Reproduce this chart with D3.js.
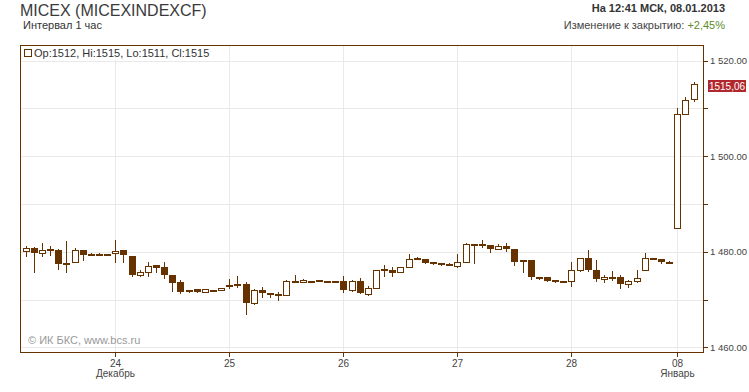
<!DOCTYPE html>
<html><head><meta charset="utf-8">
<script src="https://cdn.jsdelivr.net/npm/d3@7"></script>
<style>
html,body{margin:0;padding:0;background:#fff;}
svg{display:block;font-family:"Liberation Sans",Arial,sans-serif;}
</style></head>
<body>
<svg id="chart" width="749" height="392"></svg>
<script>
// ---- data ----
const openVals = [
 1480.2,1480.8,1479.8,1480.6,1480.4,1477.7,1477.8,1480.3,1479.6,1479.55,1479.5,
 1479.65,1480.3,1479.2,1475.25,1475.7,1477.3,1476.8,1475.25,1473.6,1471.95,1472.2,1471.7,1472.1,1472.0,
 1473.0,1473.2,1473.2,1469.3,1472.0,1471.3,1471.1,1471.05,1474.0,1473.6,1474.0,1474.05,1473.85,1473.85,
 1474.0,1472.0,1473.8,1471.26,1472.5,1476.4,1476.15,1475.7,1476.9,1478.7,1478.6,1477.8,1477.6,1477.5,
 1477.1,1477.97,1481.5,1481.7,1481.4,1480.5,1481.3,1480.56,1478.25,1478.25,1474.7,1474.7,1474.05,1474.0,
 1473.9,1476.2,1478.8,1476.3,1474.3,1474.8,1474.8,1473.35,1473.8,1476.2,1478.8,1478.6,1477.9,
 1484.9,1508.8,1512.0
];
const highVals = [
 1481.3,1481.0,1481.8,1481.2,1480.5,1482.2,1480.9,1480.3,1479.8,1479.8,1479.5,
 1482.45,1480.3,1479.2,1476.1,1477.8,1477.3,1477.8,1475.25,1474.1,1471.95,1472.2,1472.2,1472.1,1472.5,
 1474.3,1474.9,1473.6,1472.2,1472.6,1471.3,1471.6,1474.1,1475.1,1474.3,1474.0,1474.05,1473.85,1473.85,
 1475.0,1474.2,1474.5,1472.8,1476.3,1477.2,1476.85,1476.9,1479.5,1478.9,1478.6,1477.8,1477.6,1477.7,
 1479.5,1481.9,1481.65,1482.4,1481.4,1481.6,1481.8,1480.56,1478.25,1478.25,1474.7,1474.7,1474.05,1474.0,
 1477.8,1478.8,1480.35,1478.25,1475.2,1475.9,1475.2,1474.2,1476.3,1479.7,1478.8,1478.6,1478.1,
 1510.0,1512.4,1515.5
];
const lowVals = [
 1479.2,1475.8,1479.2,1479.4,1476.4,1475.8,1477.8,1478.3,1479.4,1479.4,1479.45,
 1477.9,1477.9,1475.0,1475.0,1475.0,1475.7,1474.6,1471.8,1471.4,1471.7,1471.7,1471.7,1472.0,1472.0,
 1472.4,1472.7,1467.0,1469.0,1470.6,1470.6,1469.9,1471.05,1473.6,1473.6,1473.95,1473.8,1473.8,1473.8,
 1471.5,1471.75,1471.4,1471.05,1472.5,1475.0,1475.0,1475.7,1476.9,1478.6,1477.76,1477.55,1477.3,1477.45,
 1476.85,1477.97,1477.7,1481.1,1479.9,1480.5,1480.07,1477.3,1475.8,1474.3,1474.3,1473.8,1473.7,1473.95,
 1472.9,1476.0,1476.0,1473.9,1473.7,1474.1,1472.45,1472.65,1473.6,1476.2,1478.75,1477.6,1477.7,
 1484.9,1508.8,1511.55
];
const closeVals = [
 1480.7,1479.8,1480.3,1480.1,1477.5,1477.3,1480.3,1479.4,1479.4,1479.45,1479.45,
 1480.15,1479.4,1475.2,1475.7,1477.1,1476.7,1475.25,1473.5,1471.7,1471.7,1471.7,1472.2,1472.05,1472.5,
 1472.6,1472.9,1469.3,1472.0,1471.3,1471.0,1471.05,1473.85,1473.6,1474.05,1473.95,1473.8,1473.8,1473.8,
 1472.0,1473.85,1471.4,1472.5,1476.3,1476.0,1475.6,1476.9,1478.6,1478.6,1477.76,1477.55,1477.3,1477.45,
 1477.97,1481.6,1481.6,1481.3,1480.5,1481.3,1480.5,1477.9,1477.9,1474.75,1474.6,1473.8,1473.9,1473.95,
 1476.3,1478.8,1476.15,1474.3,1474.8,1474.75,1473.35,1473.85,1474.6,1478.8,1478.75,1477.9,1477.7,
 1508.9,1511.8,1515.06
];
const dayIndex = [11, 25, 39, 53, 67, 80];
const dayLabels = ["24", "25", "26", "27", "28", "08"];
const monthLabels = ["Декабрь", "", "", "", "", "Январь"];
const yGridValues = [1460, 1470, 1480, 1490, 1500, 1510, 1520];
const yLabelValues = [1460, 1480, 1500, 1520];
const yLabelTexts = ["1 460.00", "1 480.00", "1 500.00", "1 520.00"];
const lastPriceText = "1515,06";

// ---- layout ----
const brown = "#663300";
const svg = d3.select("#chart");
const L = 20, R = 703, T = 45, B = 352;
const x = d3.scaleLinear().domain([-0.7, 83.15]).range([L, R]);
const y = d3.scaleLinear().domain([1459.05, 1523.25]).range([B, T]);

const candles = openVals.map((o, i) => ({i, o, h: highVals[i], l: lowVals[i], c: closeVals[i]}));

// header texts
svg.append("text").attr("x", 20).attr("y", 16).attr("font-size", 16).attr("fill", "#3a3a3a").text("MICEX (MICEXINDEXCF)");
svg.append("text").attr("x", 23).attr("y", 29).attr("font-size", 11).attr("fill", "#333").text("Интервал 1 час");
svg.append("text").attr("x", 725).attr("y", 12).attr("text-anchor", "end").attr("font-size", 11).attr("font-weight", "bold").attr("fill", "#333").text("На 12:41 МСК, 08.01.2013");
const chg = svg.append("text").attr("x", 725).attr("y", 29).attr("text-anchor", "end").attr("font-size", 11).attr("fill", "#444");
chg.append("tspan").text("Изменение к закрытию: ");
chg.append("tspan").attr("fill", "#5b8c2a").text("+2,45%");

// grid
const g = svg.append("g").attr("shape-rendering", "crispEdges");
g.selectAll("line.hg").data(yGridValues).enter().append("line")
  .attr("x1", L).attr("x2", R).attr("y1", d => Math.round(y(d)) + 0.5).attr("y2", d => Math.round(y(d)) + 0.5)
  .attr("stroke", "#e9e9e9");
g.selectAll("line.vg").data(dayIndex).enter().append("line")
  .attr("y1", T).attr("y2", B).attr("x1", d => Math.round(x(d)) + 0.5).attr("x2", d => Math.round(x(d)) + 0.5)
  .attr("stroke", "#e9e9e9");

// copyright
svg.append("text").attr("x", 28).attr("y", 344).attr("font-size", 11).attr("fill", "#999").text("© ИК БКС, www.bcs.ru");

// legend
const lg = svg.append("g");
lg.append("rect").attr("x", 21).attr("y", 46).attr("width", 190).attr("height", 14).attr("fill", "#fff");
lg.append("rect").attr("x", 24.5).attr("y", 49.5).attr("width", 7).attr("height", 7).attr("fill", "#fff").attr("stroke", brown).attr("shape-rendering", "crispEdges");
lg.append("text").attr("x", 34).attr("y", 57).attr("font-size", 11).attr("fill", "#333")
  .text("Op:1512, Hi:1515, Lo:1511, Cl:1515");

// candles
const cg = svg.append("g").attr("shape-rendering", "crispEdges");
candles.forEach(d => {
  const cx = Math.round(x(d.i));
  const yo = y(d.o), yc = y(d.c), yh = y(d.h), yl = y(d.l);
  const top = Math.round(Math.min(yo, yc)), bot = Math.round(Math.max(yo, yc));
  cg.append("line").attr("x1", cx + 0.5).attr("x2", cx + 0.5)
    .attr("y1", Math.round(yh)).attr("y2", Math.round(yl) + 1).attr("stroke", brown);
  if (d.c >= d.o) {
    const hgt = Math.max(bot - top, 1);
    cg.append("rect").attr("x", cx - 2.5).attr("y", top + 0.5).attr("width", 6).attr("height", hgt)
      .attr("fill", "#fff").attr("stroke", brown);
  } else {
    const hgt = Math.max(bot - top, 2);
    cg.append("rect").attr("x", cx - 3).attr("y", top).attr("width", 7).attr("height", hgt).attr("fill", brown);
  }
});

// frame
svg.append("rect").attr("x", L + 0.5).attr("y", T + 0.5).attr("width", R - L).attr("height", B - T)
  .attr("fill", "none").attr("stroke", brown).attr("shape-rendering", "crispEdges");

// right axis ticks + labels
const ax = svg.append("g").attr("shape-rendering", "crispEdges");
ax.selectAll("line").data(yGridValues).enter().append("line")
  .attr("x1", R).attr("x2", R + 5).attr("y1", d => Math.round(y(d)) + 0.5).attr("y2", d => Math.round(y(d)) + 0.5)
  .attr("stroke", brown);
svg.selectAll("text.yl").data(yLabelValues).enter().append("text").attr("class", "yl")
  .attr("x", 710).attr("y", d => y(d) + 3.5).attr("font-size", 9.5).attr("fill", "#444")
  .text((d, i) => yLabelTexts[i]);

// bottom ticks + labels
svg.append("g").attr("shape-rendering", "crispEdges").selectAll("line").data(dayIndex).enter().append("line")
  .attr("x1", d => Math.round(x(d)) + 0.5).attr("x2", d => Math.round(x(d)) + 0.5).attr("y1", B).attr("y2", B + 5)
  .attr("stroke", brown);
svg.selectAll("text.dl").data(dayIndex).enter().append("text").attr("class", "dl")
  .attr("x", d => Math.round(x(d)) + 0.5).attr("y", 367).attr("text-anchor", "middle").attr("font-size", 10).attr("fill", "#444")
  .text((d, i) => dayLabels[i]);
svg.selectAll("text.ml").data(dayIndex).enter().append("text").attr("class", "ml")
  .attr("x", d => Math.round(x(d)) + 0.5).attr("y", 377).attr("text-anchor", "middle").attr("font-size", 10).attr("fill", "#444")
  .text((d, i) => monthLabels[i]);

// last price label
const lastY = y(closeVals[closeVals.length - 1]);
svg.append("rect").attr("x", 708).attr("y", Math.round(lastY) - 4).attr("width", 38).attr("height", 12)
  .attr("fill", "#b0282d").attr("shape-rendering", "crispEdges");
svg.append("text").attr("x", 727).attr("y", Math.round(lastY) + 5.5).attr("text-anchor", "middle")
  .attr("font-size", 10).attr("fill", "#fff").text(lastPriceText);
</script>
</body></html>
